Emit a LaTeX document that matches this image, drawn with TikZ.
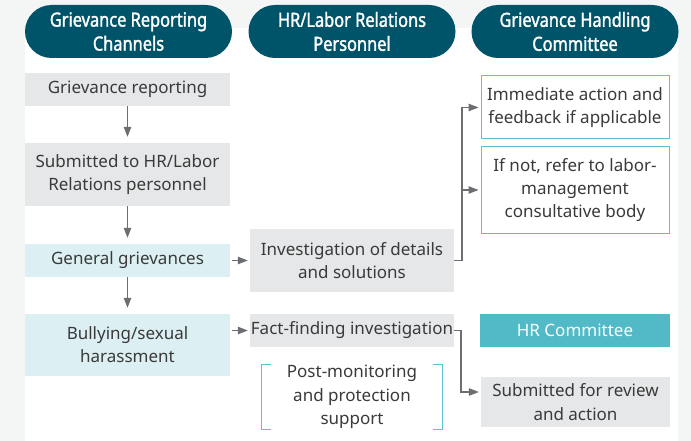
\documentclass[tikz,border=0pt]{standalone}
\usepackage{fontspec}
\setmainfont{Noto Sans}
\newfontfamily\headfont{Noto Sans}[FakeStretch=0.84, FakeBold=1.6]
\usetikzlibrary{arrows.meta,calc}
\definecolor{bggray}{HTML}{F4F6F6}
\definecolor{hdrteal}{HTML}{00546A}
\definecolor{boxgray}{HTML}{E6E7E8}
\definecolor{boxblue}{HTML}{DCEFF3}
\definecolor{cyanline}{HTML}{5BC3CF}
\definecolor{hrteal}{HTML}{52BAC6}
\definecolor{arrgray}{HTML}{6D6E71}
\definecolor{txt}{HTML}{3A3A3A}
\begin{document}
\begin{tikzpicture}[x=1pt,y=-1pt,
  every node/.style={inner sep=0pt, align=center, font=\fontsize{17}{23}\selectfont, text=txt},
  graybox/.style={fill=boxgray},
  bluebox/.style={fill=boxblue},
  outbox/.style={draw=cyanline, line width=1pt, fill=white},
  hrbox/.style={fill=hrteal, text=white},
  hdr/.style={fill=hdrteal, rounded corners=26.5pt, text=white, font=\headfont\fontsize{19.5}{24}\selectfont, minimum width=207pt, minimum height=53pt},
  conn/.style={draw=arrgray, line width=1.1pt, -{Triangle[length=10pt,width=7.5pt]}},
  bracketline/.style={draw=cyanline, line width=1pt},
]
\useasboundingbox (0,0) rectangle (691,441);
\clip (0,0) rectangle (691,441);
\fill[bggray] (0,0) rectangle (691,441);
\fill[white, rounded corners=10pt] (25,28) rectangle (678,470);

% headers
\node[hdr] (h1) at (128.5,31.5) {Grievance Reporting\\Channels};
\node[hdr] (h2) at (352,31.5) {HR/Labor Relations\\Personnel};
\node[hdr] (h3) at (575,31.5) {Grievance Handling\\Committee};

% column 1
\node[graybox, minimum width=205pt, minimum height=33pt] (a1) at (127.5,89.5) {Grievance reporting};
\node[graybox, minimum width=205pt, minimum height=63pt] (a2) at (127.5,174.5) {Submitted to HR/Labor\\Relations personnel};
\node[bluebox, minimum width=205pt, minimum height=33pt] (a3) at (127.5,260.5) {General grievances};
\node[bluebox, minimum width=205pt, minimum height=62pt] (a4) at (127.5,345) {Bullying/sexual\\harassment};

% column 2
\node[graybox, minimum width=204pt, minimum height=63pt] (b1) at (352,260.5) {Investigation of details\\and solutions};
\node[graybox, minimum width=204pt, minimum height=33pt] (b2) at (352,330.5) {Fact-finding investigation};
\node[minimum width=180pt, minimum height=60pt, font=\fontsize{17}{23.5}\selectfont] (b3) at (352,397) {Post-monitoring\\and protection\\support};
\draw[bracketline] ($(b3.north west)+(9,0)$) -| (b3.south west) -- ++(9,0);
\draw[bracketline] ($(b3.north east)+(-9,0)$) -| (b3.south east) -- ++(-9,0);

% column 3
\node[outbox, minimum width=188pt, minimum height=63pt] (c1) at (575,107.5) {Immediate action and\\feedback if applicable};
\node[outbox, minimum width=188pt, minimum height=86pt] (c2) at (575,190) {If not, refer to labor-\\management\\consultative body};
\node[hrbox, minimum width=190pt, minimum height=33pt] (c3) at (575,330.5) {HR Committee};
\node[graybox, minimum width=189pt, minimum height=50pt, font=\fontsize{17}{24}\selectfont] (c4) at (575.5,402) {Submitted for review\\and action};

% connectors
\draw[conn, shorten >=6pt] (a1.south) -- (a2.north);
\draw[conn, shorten >=6pt] (a2.south) -- (a3.north);
\draw[conn, shorten >=6pt] (a3.south) -- (a4.north);
\draw[conn, shorten <=2pt, shorten >=2pt] (a3.east) -- (b1.west);
\draw[conn, shorten <=2pt, shorten >=2pt] (a4.east |- b2.west) -- (b2.west);

\coordinate (j1) at (462,260.5);
\draw[conn, shorten >=2pt] (b1.east) -- (j1) |- (c1.west);
\draw[conn, shorten >=2pt] (j1 |- c2.west) -- (c2.west);

\coordinate (j2) at (461,392);
\draw[conn, shorten >=2pt] (b2.east) -| (j2) -- (c4.west |- j2);
\end{tikzpicture}
\end{document}
